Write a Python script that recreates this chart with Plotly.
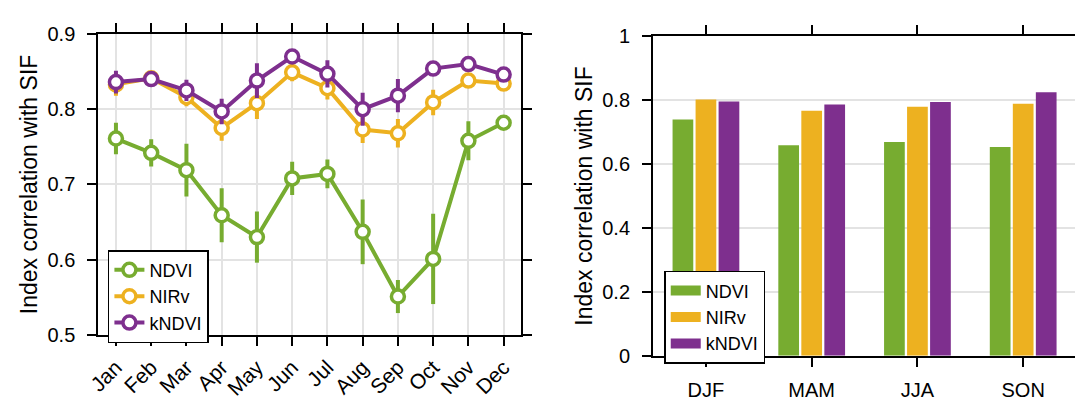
import plotly.graph_objects as go

# ---------------- data ----------------
months = ["Jan", "Feb", "Mar", "Apr", "May", "Jun", "Jul", "Aug", "Sep", "Oct", "Nov", "Dec"]
month_idx = list(range(1, 13))

ndvi_month = [0.761, 0.742, 0.719, 0.659, 0.630, 0.708, 0.714, 0.637, 0.551, 0.601, 0.758, 0.782]
ndvi_err = [0.021, 0.018, 0.035, 0.036, 0.034, 0.022, 0.019, 0.043, 0.022, 0.060, 0.026, 0.006]

nirv_month = [0.833, 0.841, 0.816, 0.775, 0.808, 0.849, 0.828, 0.773, 0.768, 0.809, 0.838, 0.834]
nirv_err = [0.015, 0.008, 0.012, 0.017, 0.021, 0.012, 0.015, 0.018, 0.019, 0.017, 0.008, 0.007]

kndvi_month = [0.836, 0.840, 0.825, 0.797, 0.838, 0.870, 0.847, 0.800, 0.818, 0.854, 0.860, 0.846]
kndvi_err = [0.015, 0.008, 0.014, 0.017, 0.023, 0.008, 0.018, 0.022, 0.022, 0.008, 0.008, 0.008]

seasons = ["DJF", "MAM", "JJA", "SON"]
ndvi_season = [0.739, 0.659, 0.669, 0.653]
nirv_season = [0.802, 0.767, 0.779, 0.789]
kndvi_season = [0.796, 0.786, 0.794, 0.825]

series_names = ["NDVI", "NIRv", "kNDVI"]
colors = ["#77AC30", "#EDB120", "#7E2F8E"]

FONT = "Liberation Sans, Arial, sans-serif"
W, H = 1075, 401

fig = go.Figure()

# ---------------- left: monthly lines ----------------
for name, vals, errs, col in zip(series_names,
                                 [ndvi_month, nirv_month, kndvi_month],
                                 [ndvi_err, nirv_err, kndvi_err], colors):
    fig.add_trace(go.Scatter(
        x=month_idx, y=vals, name=name, mode="lines+markers",
        line=dict(color=col, width=4),
        marker=dict(symbol="circle", size=13, color="white",
                    line=dict(color=col, width=3.5)),
        error_y=dict(type="data", array=errs, visible=True, color=col,
                     thickness=4, width=0),
        xaxis="x", yaxis="y", legend="legend",
    ))

# ---------------- right: seasonal bars ----------------
for name, vals, col in zip(series_names, [ndvi_season, nirv_season, kndvi_season], colors):
    fig.add_trace(go.Bar(
        x=seasons, y=vals, name=name, marker=dict(color=col, line=dict(width=0)),
        xaxis="x2", yaxis="y2", showlegend=False,
    ))
# legend swatches for the bar panel
for name, col in zip(series_names, colors):
    fig.add_trace(go.Scatter(
        x=[None], y=[None], name=name, mode="lines",
        line=dict(color=col, width=10),
        xaxis="x2", yaxis="y2", legend="legend2",
    ))

axis_common = dict(
    showline=True, linecolor="black", linewidth=2,
    ticks="outside", ticklen=9, tickwidth=2, tickcolor="black",
    zeroline=False,
)
tickfont = dict(family=FONT, size=20, color="black")

fig.update_layout(
    width=W, height=H,
    margin=dict(l=0, r=0, t=0, b=0),
    paper_bgcolor="white", plot_bgcolor="white",
    font=dict(family=FONT, size=20, color="black"),
    barmode="group", bargap=0.347, bargroupgap=0.1,
    xaxis=dict(
        domain=[87.3 / W, 515 / W], range=[0.5, 12.5],
        tickmode="array", tickvals=month_idx, ticktext=months, tickangle=-45,
        tickfont=dict(family=FONT, size=21, color="black"),
        mirror="ticks", showgrid=True, gridcolor="#e3e3e3", gridwidth=2,
        anchor="y", ticklabelstandoff=1, **axis_common,
    ),
    yaxis=dict(
        domain=[(H - 342.7) / H, (H - 24.3) / H], range=[0.5, 0.9], dtick=0.1,
        tick0=0.5, mirror="ticks", showgrid=True, gridcolor="#e3e3e3", gridwidth=2,
        tickfont=tickfont,
        title=dict(text="Index correlation with SIF", font=dict(family=FONT, size=23),
                   standoff=3),
        anchor="x", ticklabelstandoff=8, **axis_common,
    ),
    xaxis2=dict(
        domain=[648.3 / W, 1.0], range=[-0.5, 3.49],
        tickfont=tickfont,
        mirror="ticks", showgrid=False, anchor="y2", ticklabelstandoff=6,
        **axis_common,
    ),
    yaxis2=dict(
        domain=[(H - 364.7) / H, (H - 26.7) / H], range=[0, 1], dtick=0.2,
        showgrid=True, gridcolor="#e3e3e3", gridwidth=2, mirror=False,
        tickfont=tickfont,
        title=dict(text="Index correlation with SIF", font=dict(family=FONT, size=23),
                   standoff=3),
        anchor="x2", ticklabelstandoff=8, **axis_common,
    ),
    legend=dict(
        x=97 / W, y=(H - 253) / H, xanchor="left", yanchor="top",
        bgcolor="white", bordercolor="black", borderwidth=1.5,
        font=dict(family=FONT, size=18, color="black"),
        tracegroupgap=0, itemwidth=30,
    ),
    legend2=dict(
        x=659.6 / W, y=(H - 275) / H, xanchor="left", yanchor="top",
        bgcolor="white", bordercolor="black", borderwidth=1.5,
        font=dict(family=FONT, size=18, color="black"),
        tracegroupgap=0, itemwidth=30,
    ),
    showlegend=True,
)

fig.write_html("out.html")
